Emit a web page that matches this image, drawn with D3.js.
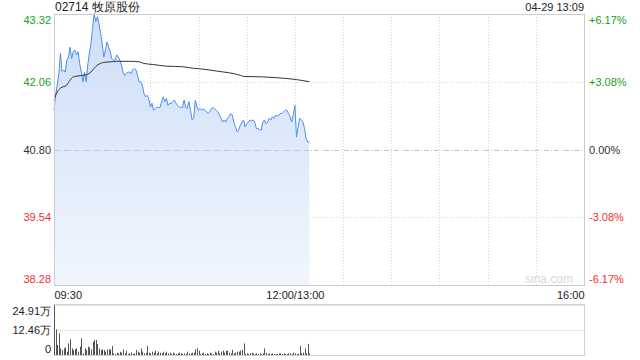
<!DOCTYPE html>
<html>
<head>
<meta charset="utf-8">
<script src="https://cdn.jsdelivr.net/npm/d3@7"></script>
<style>
  body { margin: 0; background: #fff; }
  svg text { font-family: "Liberation Sans", Arial, sans-serif; }
</style>
</head>
<body>
<div id="chart"></div>
<script>
// ---- data ----
var stockName = "02714 牧原股份";
var stamp = "04-29 13:09";
var prevClose = 40.80;
var priceTicks = [43.32, 42.06, 40.80, 39.54, 38.28];
var pctTicks = ["+6.17%", "+3.08%", "0.00%", "-3.08%", "-6.17%"];
var timeTicks = [0, 150, 330];
var timeLabels = ["09:30", "12:00/13:00", "16:00"];
var volTicks = [24.91, 12.46, 0];
var volLabels = ["24.91万", "12.46万", "0"];

// one price per minute, 09:30 -> 13:09
var price = [
  41.53, 41.81, 42.00, 42.20, 42.59, 42.25, 42.28, 42.24, 42.46, 42.52,
  42.70, 42.49, 42.62, 42.65, 42.56, 42.62, 42.40, 42.24, 42.06, 42.24,
  42.06, 42.37, 42.59, 42.77, 43.05, 43.33, 43.18, 43.27, 43.15, 42.96,
  42.77, 42.52, 42.65, 42.80, 42.71, 42.62, 42.49, 42.46, 42.46, 42.56,
  42.52, 42.46, 42.37, 42.24, 42.18, 42.21, 42.24, 42.24, 42.21, 42.28,
  42.31, 42.28, 42.18, 42.06, 42.06, 42.00, 41.84, 41.78, 41.81, 41.75,
  41.59, 41.66, 41.53, 41.56, 41.59, 41.58, 41.58, 41.69, 41.78, 41.69,
  41.75, 41.62, 41.66, 41.65, 41.69, 41.72, 41.66, 41.62, 41.59, 41.58,
  41.58, 41.72, 41.59, 41.56, 41.69, 41.53, 41.35, 41.38, 41.72, 41.59,
  41.53, 41.56, 41.53, 41.56, 41.53, 41.50, 41.47, 41.50, 41.56, 41.58,
  41.56, 41.53, 41.50, 41.44, 41.38, 41.31, 41.35, 41.31, 41.38, 41.41,
  41.47, 41.44, 41.31, 41.22, 41.13, 41.16, 41.25, 41.31, 41.35, 41.22,
  41.28, 41.31, 41.35, 41.33, 41.35, 41.31, 41.19, 41.19, 41.17, 41.16,
  41.31, 41.35, 41.28, 41.31, 41.38, 41.35, 41.41, 41.38, 41.44, 41.42,
  41.44, 41.47, 41.47, 41.50, 41.53, 41.53, 41.47, 41.41, 41.31, 41.45,
  41.62, 41.03, 41.22, 41.38, 41.35, 41.31, 41.19, 41.00, 40.94, 40.94
];

// average price line, read at these minutes
var avgMinute = [0, 2, 4, 8, 10, 12, 18, 21, 23, 25, 27, 29, 31, 35, 39, 47, 53, 56, 62, 70, 80, 87, 91, 101, 116, 118, 130, 145, 151, 159];
var avgPrice = [41.72, 41.87, 41.94, 42.00, 42.09, 42.15, 42.18, 42.20, 42.24, 42.31, 42.37, 42.40, 42.42, 42.43, 42.44, 42.44, 42.43, 42.40, 42.38, 42.35, 42.34, 42.31, 42.30, 42.26, 42.18, 42.16, 42.15, 42.12, 42.10, 42.06];

// volume per minute, in 万 shares
var volume = [
  24.9, 12.8, 5.0, 10.8, 3.3, 2.5, 3.3, 3.8, 1.66, 5.8,
  7.8, 3.3, 2.5, 2.8, 3.3, 1.66, 4.15, 8.3, 0.83, 3.3,
  2.5, 4.15, 3.8, 2.8, 6.6, 7.5, 7.5, 5.5, 3.3, 2.5,
  2.8, 2.5, 1.66, 2.8, 2.8, 2.8, 4.5, 0.83, 0.5, 1.16,
  0.83, 1.66, 1.16, 2.8, 0.83, 2.16, 0.5, 0.83, 1.3, 0.5,
  0.83, 2.5, 1.66, 1.16, 3.3, 1.66, 0.83, 1.16, 4.5, 1.16,
  0.83, 1.66, 1.16, 2.16, 0.83, 1.66, 1.16, 0.83, 1.66, 0.83,
  1.66, 0.83, 1.16, 0.5, 1.16, 0.83, 0.5, 0.83, 1.16, 0.83,
  0.5, 0.83, 0.5, 1.66, 0.83, 0.83, 1.16, 1.16, 2.8, 3.3,
  2.16, 0.5, 0.83, 1.16, 0.5, 0.83, 0.5, 1.16, 0.83, 0.5,
  1.66, 1.16, 2.16, 0.83, 1.66, 2.16, 1.16, 2.16, 2.16, 1.16,
  0.83, 2.5, 0.83, 1.16, 1.66, 1.66, 2.16, 2.5, 5.8, 0.5,
  0.83, 0.5, 0.83, 1.16, 0.83, 0.5, 0.83, 0.5, 0.83, 0.5,
  0.83, 3.3, 1.16, 0.5, 0.83, 0.5, 0.83, 0.5, 0.5, 0.5,
  0.83, 0.83, 0.5, 0.83, 0.5, 0.5, 0.83, 0.83, 0.5, 1.16,
  0.83, 0.5, 0.5, 4.5, 0.83, 1.16, 3.3, 0.83, 5.5, 0.83
];

var W = 640, H = 360;
var plotLeft = 54, plotRight = 584;
var plotTop = 14, plotBottom = 285;
var volTop = 305, volBottom = 355;

var svg = d3.select("#chart").append("svg")
    .attr("width", W)
    .attr("height", H);

var x = d3.scaleLinear().domain([0, 330]).range([plotLeft, plotRight]);
var y = d3.scaleLinear().domain([38.28, 43.32]).range([plotBottom, plotTop]);
var yv = d3.scaleLinear().domain([0, 24.91]).range([volBottom, volTop]);

var defs = svg.append("defs");
var grad = defs.append("linearGradient")
    .attr("id", "fillGrad")
    .attr("gradientUnits", "userSpaceOnUse")
    .attr("x1", 0).attr("x2", 0)
    .attr("y1", plotTop).attr("y2", plotBottom);
grad.append("stop").attr("offset", "0%").attr("stop-color", "#cddef8");
grad.append("stop").attr("offset", "100%").attr("stop-color", "#f1f6fd");

// header texts
svg.append("text")
    .attr("x", plotLeft + 1).attr("y", 11)
    .attr("font-size", 12).attr("fill", "#222")
    .text(stockName);
svg.append("text")
    .attr("x", plotRight).attr("y", 11)
    .attr("text-anchor", "end")
    .attr("font-size", 11).attr("fill", "#222")
    .text(stamp);

// grid
var grid = svg.append("g");
d3.range(1, 11).forEach(function (i) {
    grid.append("line")
        .attr("x1", Math.round(x(i * 30)) + 0.5).attr("x2", Math.round(x(i * 30)) + 0.5)
        .attr("y1", plotTop).attr("y2", plotBottom)
        .attr("stroke", "#d4d4d4")
        .attr("stroke-dasharray", "1,2");
});
[priceTicks[1], priceTicks[3]].forEach(function (p) {
    grid.append("line")
        .attr("x1", plotLeft).attr("x2", plotRight)
        .attr("y1", Math.round(y(p)) + 0.5).attr("y2", Math.round(y(p)) + 0.5)
        .attr("stroke", "#d4d4d4")
        .attr("stroke-dasharray", "1,2");
});

// area + lines
var area = d3.area()
    .x(function (d, i) { return x(i); })
    .y0(plotBottom)
    .y1(function (d) { return y(d); });
svg.append("path")
    .attr("d", area(price))
    .attr("fill", "url(#fillGrad)");

// zero line sits over the fill
svg.append("line")
    .attr("x1", plotLeft).attr("x2", plotRight)
    .attr("y1", Math.round(y(prevClose)) + 0.5).attr("y2", Math.round(y(prevClose)) + 0.5)
    .attr("stroke", "#c4c4c4")
    .attr("stroke-dasharray", "5,2,1,2");

var line = d3.line()
    .x(function (d, i) { return x(i); })
    .y(function (d) { return y(d); });
svg.append("path")
    .attr("d", line(price))
    .attr("fill", "none")
    .attr("stroke", "#4d8ef0")
    .attr("stroke-width", 1);

var avgLine = d3.line()
    .x(function (d) { return x(d); })
    .y(function (d, i) { return y(avgPrice[i]); })
    .curve(d3.curveMonotoneX);
svg.append("path")
    .attr("d", avgLine(avgMinute))
    .attr("fill", "none")
    .attr("stroke", "#333")
    .attr("stroke-width", 1);

// frame
svg.append("rect")
    .attr("x", plotLeft + 0.5).attr("y", plotTop + 0.5)
    .attr("width", plotRight - plotLeft).attr("height", plotBottom - plotTop)
    .attr("fill", "none").attr("stroke", "#cccccc");

// watermark
svg.append("text")
    .attr("x", 573).attr("y", 283)
    .attr("text-anchor", "end")
    .attr("font-size", 12).attr("fill", "#d8d8d8")
    .text("sina.com");

// price labels, left and right
var priceColor = function (i) { return i < 2 ? "#1aa01a" : (i === 2 ? "#333" : "#f03030"); };
var labelY = function (d, i) {
    var yy = y(d);
    if (i === 0) yy += 6;
    if (i === priceTicks.length - 1) yy -= 6;
    return yy + 4;
};
svg.append("g").selectAll("text")
    .data(priceTicks)
    .enter().append("text")
    .attr("x", plotLeft - 3)
    .attr("y", labelY)
    .attr("text-anchor", "end")
    .attr("font-size", 11)
    .attr("fill", function (d, i) { return priceColor(i); })
    .text(function (d) { return d.toFixed(2); });

svg.append("g").selectAll("text")
    .data(priceTicks)
    .enter().append("text")
    .attr("x", plotRight + 5)
    .attr("y", labelY)
    .attr("font-size", 11)
    .attr("fill", function (d, i) { return priceColor(i); })
    .text(function (d, i) { return pctTicks[i]; });

// time axis
var xAxis = d3.axisBottom(x)
    .tickValues(timeTicks)
    .tickSize(0)
    .tickFormat(function (d, i) { return timeLabels[i]; });
var xAxisG = svg.append("g")
    .attr("transform", "translate(0," + (plotBottom + 1) + ")")
    .call(xAxis);
xAxisG.select(".domain").remove();
xAxisG.selectAll("text")
    .attr("font-size", 11)
    .attr("font-family", "Liberation Sans, Arial, sans-serif")
    .attr("fill", "#222")
    .attr("dy", "0.95em")
    .attr("text-anchor", function (d, i) { return i === 0 ? "start" : (i === timeTicks.length - 1 ? "end" : "middle"); });

// volume panel
var vg = svg.append("g");
vg.append("rect")
    .attr("x", plotLeft + 0.5).attr("y", volTop - 0.5)
    .attr("width", plotRight - plotLeft).attr("height", volBottom - volTop + 1)
    .attr("fill", "none").attr("stroke", "#d0d0d0");
vg.append("line")
    .attr("x1", plotLeft).attr("x2", plotRight)
    .attr("y1", Math.round(yv(12.46)) + 0.5).attr("y2", Math.round(yv(12.46)) + 0.5)
    .attr("stroke", "#cfcfcf").attr("stroke-dasharray", "1,1");
vg.append("line")
    .attr("x1", plotLeft).attr("x2", plotRight)
    .attr("y1", volTop + 0.5).attr("y2", volTop + 0.5)
    .attr("stroke", "#cfcfcf").attr("stroke-dasharray", "1,1");
vg.selectAll("rect.bar")
    .data(volume)
    .enter().append("rect")
    .attr("class", "bar")
    .attr("x", function (d, i) { return Math.round(x(i)); })
    .attr("width", 1)
    .attr("y", function (d) { return yv(d); })
    .attr("height", function (d) { return volBottom - yv(d); })
    .attr("fill", "#555");

vg.selectAll("text")
    .data(volTicks)
    .enter().append("text")
    .attr("x", plotLeft - 3)
    .attr("y", function (d, i) {
        var yy = yv(d);
        if (i === 0) yy += 6;
        if (i === volTicks.length - 1) yy -= 6;
        return yy + 4;
    })
    .attr("text-anchor", "end")
    .attr("font-size", 11)
    .attr("fill", "#222")
    .text(function (d, i) { return volLabels[i]; });
</script>
</body>
</html>
